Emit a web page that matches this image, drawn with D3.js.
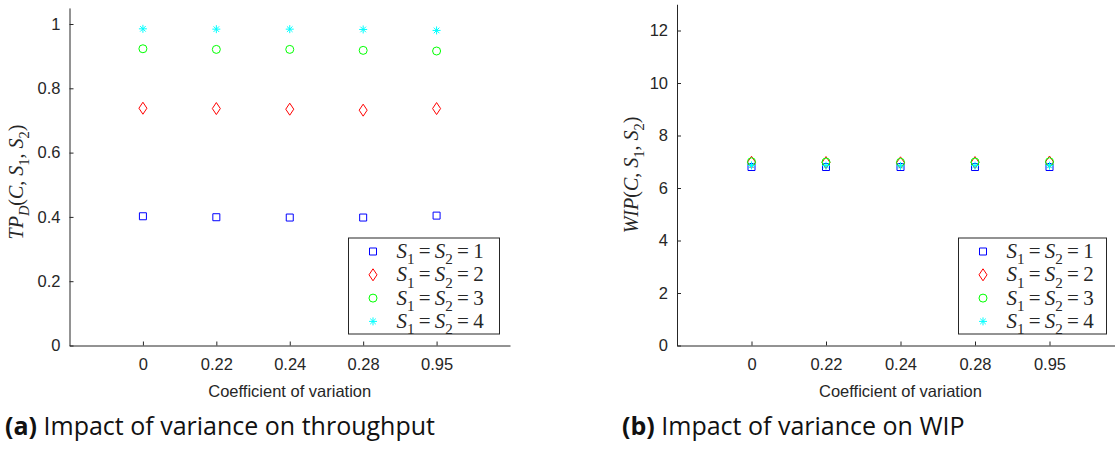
<!DOCTYPE html>
<html><head><meta charset="utf-8">
<script src="https://cdn.jsdelivr.net/npm/d3@7"></script>
<style>
html,body{margin:0;padding:0;background:#fff;}
svg{display:block;}
</style>
</head><body>
<svg id="chart" width="1115" height="452"></svg>
<script>
// ---- data ----
const categories = ["0", "0.22", "0.24", "0.28", "0.95"];
const seriesLevels = [1, 2, 3, 4];
const seriesColors = ["#0000ff", "#ff0000", "#00ff00", "#00ffff"];
const seriesMarkers = ["square", "diamond", "circle", "star"];

const tpS1 = [0.402, 0.399, 0.398, 0.398, 0.404];
const tpS2 = [0.738, 0.737, 0.735, 0.732, 0.737];
const tpS3 = [0.923, 0.921, 0.921, 0.918, 0.916];
const tpS4 = [0.985, 0.984, 0.984, 0.983, 0.980];

const wipS1 = [6.80, 6.80, 6.80, 6.80, 6.80];
const wipS2 = [6.98, 6.97, 6.96, 6.97, 6.99];
const wipS3 = [7.00, 6.99, 6.98, 6.99, 7.00];
const wipS4 = [6.86, 6.85, 6.84, 6.85, 6.85];

const tpTicks = [0, 0.2, 0.4, 0.6, 0.8, 1];
const wipTicks = [0, 2, 4, 6, 8, 10, 12];

const svg = d3.select("#chart");
const axisColor = "#262626";

function markerPath(type) {
  if (type === "square") return "M-3.5,-3.5H3.5V3.5H-3.5Z";
  if (type === "diamond") return "M0,-6L4,0L0,6L-4,0Z";
  if (type === "circle") return "M4,0A4,4 0 1,1 -4,0A4,4 0 1,1 4,0Z";
  // asterisk
  return "M0,-4V4M-4,0H4M-2.8,-2.8L2.8,2.8M-2.8,2.8L2.8,-2.8";
}

// math text: segments [text, italic, sub]
function mathText(sel, segs, size) {
  const t = sel.append("text").attr("font-family", "'Liberation Serif', 'DejaVu Serif', serif")
    .attr("font-size", size).attr("fill", axisColor);
  let inSub = false;
  segs.forEach(s => {
    const [txt, it, sub] = s;
    const ts = t.append("tspan").text(txt)
      .attr("font-style", it ? "italic" : "normal");
    if (sub && !inSub) { ts.attr("dy", size * 0.3).attr("font-size", size * 0.72); inSub = true; }
    else if (sub) { ts.attr("font-size", size * 0.72); }
    else if (!sub && inSub) { ts.attr("dy", -size * 0.3); inSub = false; }
  });
  return t;
}

function legendSegs(n) {
  return [["S", true, false], ["1", false, true], ["\u2009=\u2009", false, false], ["S", true, false], ["2", false, true], ["\u2009=\u2009" + n, false, false]];
}

function panel(opts) {
  const g = svg.append("g");
  const x = d3.scaleLinear().domain([0, 6]).range([opts.x0, opts.x1]);
  const y = d3.scaleLinear().domain([0, opts.ymax]).range([345.5, opts.ytop]);

  const xAxis = d3.axisBottom(x).tickValues([1, 2, 3, 4, 5])
    .tickFormat(i => categories[i - 1]).tickSizeInner(-4).tickSizeOuter(0).tickPadding(13);
  const gx = g.append("g").attr("transform", "translate(0,345.5)").call(xAxis);
  const yAxis = d3.axisLeft(y).tickValues(opts.ticks).tickFormat(d => String(d))
    .tickSizeInner(-4).tickSizeOuter(0).tickPadding(9);
  const gy = g.append("g").attr("transform", `translate(${opts.x0},0)`).call(yAxis);
  [gx, gy].forEach(a => {
    a.selectAll("path,line").attr("stroke", axisColor).attr("stroke-width", 1);
    a.selectAll("text").attr("fill", axisColor)
      .attr("font-family", "'Liberation Sans', Arial, sans-serif").attr("font-size", 16.5);
  });

  // series
  opts.series.forEach((vals, si) => {
    g.append("g").selectAll("path").data(vals).join("path")
      .attr("transform", (d, i) => `translate(${x(i + 1)},${y(d)})`)
      .attr("d", markerPath(seriesMarkers[si]))
      .attr("fill", "none").attr("stroke", seriesColors[si]).attr("stroke-width", 1);
  });

  // x label
  g.append("text").attr("x", (opts.x0 + Math.min(opts.x1, 1124)) / 2).attr("y", 397)
    .attr("text-anchor", "middle").attr("fill", axisColor)
    .attr("font-family", "'Liberation Sans', Arial, sans-serif").attr("font-size", 16.5)
    .text("Coefficient of variation");

  // y label
  const yl = g.append("g").attr("transform", `translate(${opts.ylx},${opts.yly}) rotate(-90)`);
  mathText(yl, opts.ylabel, 20).attr("text-anchor", "middle");

  // legend
  const lg = g.append("g");
  lg.append("rect").attr("x", opts.lx).attr("y", 238).attr("width", opts.lw).attr("height", 96)
    .attr("fill", "#fff").attr("stroke", axisColor).attr("stroke-width", 1);
  seriesLevels.forEach((n, si) => {
    const cy = 251.5 + si * 23.3;
    lg.append("path").attr("transform", `translate(${opts.lx + 24.5},${cy})`)
      .attr("d", markerPath(seriesMarkers[si])).attr("fill", "none")
      .attr("stroke", seriesColors[si]).attr("stroke-width", 1);
    const tg = lg.append("g").attr("transform", `translate(${opts.lx + 48},${cy + 6.5})`);
    mathText(tg, legendSegs(n), 21);
  });

  // caption
  const cap = svg.append("text").attr("x", opts.capx).attr("y", 435)
    .attr("font-family", "'Open Sans', Lato, sans-serif").attr("font-size", 25).attr("fill", "#111");
  cap.append("tspan").attr("font-weight", "bold").text(opts.capLabel);
  cap.append("tspan").text(" " + opts.capText);
}

panel({
  x0: 69.5, x1: 510, ymax: 1.05, ytop: 345.5 - 1.05 * 321.5, ticks: tpTicks,
  series: [tpS1, tpS2, tpS3, tpS4],
  ylabel: [["TP", true, false], ["D", true, true], ["(", false, false], ["C", true, false], [", ", false, false],
           ["S", true, false], ["1", false, true], [", ", false, false], ["S", true, false], ["2", false, true], [")", false, false]],
  ylx: 23, yly: 182,
  lx: 348.5, lw: 151,
  capx: 5, capLabel: "(a)", capText: "Impact of variance on throughput"
});

panel({
  x0: 677, x1: 1124, ymax: 13, ytop: 345.5 - 13 * 26.25, ticks: wipTicks,
  series: [wipS1, wipS2, wipS3, wipS4],
  ylabel: [["WIP", true, false], ["(", false, false], ["C", true, false], [", ", false, false],
           ["S", true, false], ["1", false, true], [", ", false, false], ["S", true, false], ["2", false, true], [")", false, false]],
  ylx: 638, yly: 175,
  lx: 958.5, lw: 148,
  capx: 622, capLabel: "(b)", capText: "Impact of variance on WIP"
});
</script>
</body></html>
